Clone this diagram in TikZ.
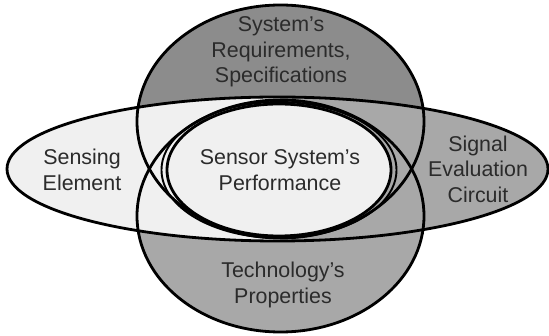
\documentclass[tikz,border=0pt]{standalone}
\usepackage{fontspec}
\setmainfont{Liberation Sans}
\definecolor{topgray}{gray}{0.55}
\definecolor{midgray}{gray}{0.66}
\definecolor{lightfill}{gray}{0.94}
\definecolor{txt}{gray}{0.17}
\begin{document}
\begin{tikzpicture}[x=1pt,y=-1pt,
  outline/.style={draw=black,line width=2.8pt},
  thinring/.style={draw=black,line width=1.9pt},
  corering/.style={draw=black,line width=2.8pt},
  lbl/.style={align=center,font=\fontsize{21.4}{25.5}\selectfont,text=txt,inner sep=0pt}]
\useasboundingbox (0,0) rectangle (549,336);

% centres of the five ellipses
\coordinate (top) at (280.5,121.5);
\coordinate (bot) at (280.5,216);
\coordinate (hor) at (277.5,169);
\coordinate (mid) at (279,170);

% fills
\fill[topgray] (top) ellipse [x radius=143.5pt, y radius=116.5pt];
\fill[midgray] (bot) ellipse [x radius=143.5pt, y radius=116pt];
\fill[lightfill] (hor) ellipse [x radius=270.5pt, y radius=72pt];
\begin{scope}
  \clip (hor) ellipse [x radius=270.5pt, y radius=72pt];
  \fill[midgray] (280,90) rectangle (560,250);
\end{scope}
\fill[lightfill] (mid) ellipse [x radius=112pt, y radius=66pt];

% outlines
\draw[outline] (top) ellipse [x radius=143.5pt, y radius=116.5pt];
\draw[outline] (bot) ellipse [x radius=143.5pt, y radius=116pt];
\draw[outline] (hor) ellipse [x radius=270.5pt, y radius=72pt];
\draw[thinring] (mid) ellipse [x radius=117.5pt, y radius=68pt];
\draw[corering] (mid) ellipse [x radius=112pt, y radius=66pt];

% labels
\node[lbl] (req) at (281,52) {System's\\Requirements,\\Specifications};
\node[lbl] (sens) at (82,170) {Sensing\\Element};
\node[lbl] (perf) at (280,170) {Sensor System's\\Performance};
\node[lbl] (sig) at (478,169) {Signal\\Evaluation\\Circuit};
\node[lbl] (tech) at (283,285) {Technology's\\Properties};
\end{tikzpicture}
\end{document}
